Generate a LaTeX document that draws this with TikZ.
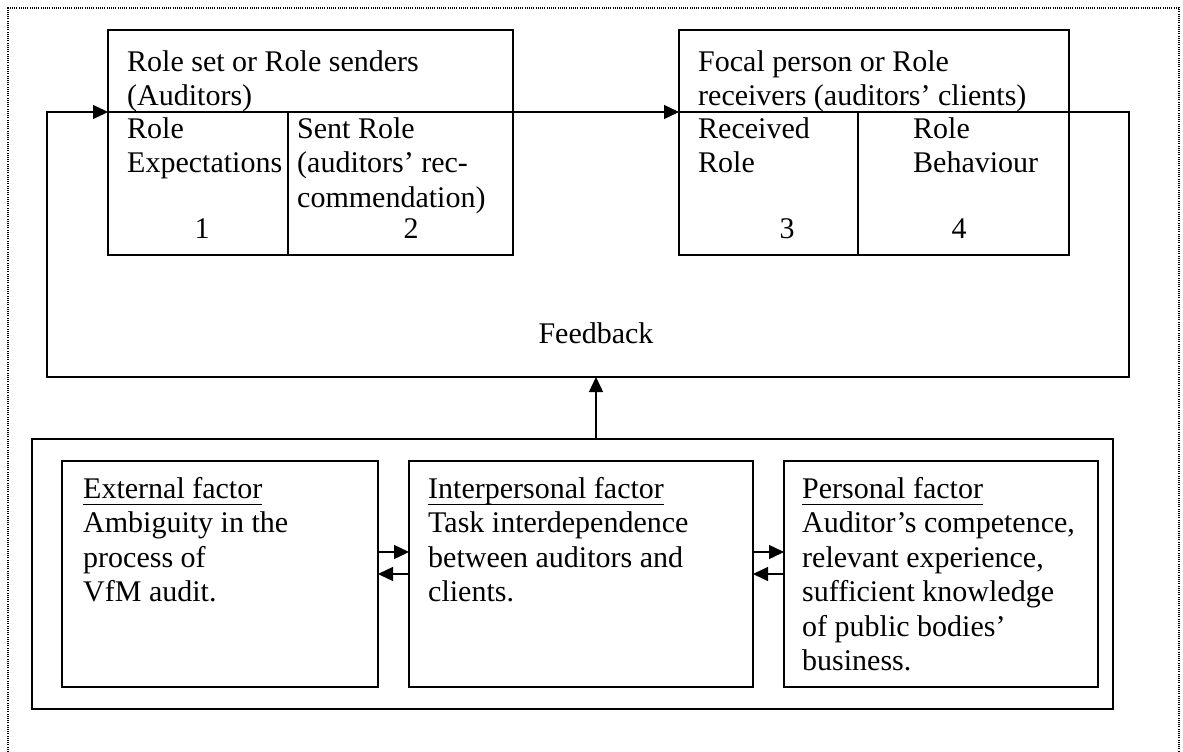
\documentclass[tikz,border=0pt]{standalone}
\usepackage{fontspec}
\setmainfont{Liberation Serif}
\usepackage{tikz}
\usetikzlibrary{positioning, arrows.meta}
\newsavebox\factbox
\newcommand{\facthead}[1]{\sbox\factbox{#1}\rlap{\rule[-7pt]{\wd\factbox}{1.3pt}}\usebox\factbox}

\begin{document}
\begin{tikzpicture}[x=1pt, y=-1pt,
    font=\fontsize{30}{34.5}\selectfont,
    box/.style={draw, line width=1.6pt, inner sep=0pt, outer sep=0pt},
    txt/.style={anchor=north west, align=left, inner sep=0pt},
    num/.style={anchor=base, inner sep=0pt},
    arr/.style={-{Triangle[length=15pt, width=14pt]}, line width=1.4pt}]
    \useasboundingbox (0,0) rectangle (1183,752);
    \draw[line width=1.3pt, dash pattern=on 1pt off 1.2pt] (8,752) -- (8,8) -- (1179,8) -- (1179,752);

    \node[box, anchor=north west, minimum width=405pt, minimum height=225pt] (lt) at (108,30) {};
    \node[box, minimum width=390pt, minimum height=225pt, right = 166pt of lt] (rt) {};
    \coordinate (ltsplit) at ([yshift=-82pt]lt.north west);
    \coordinate (rtsplit) at ([yshift=-82pt]rt.north west);
    \draw[line width=1.6pt] (ltsplit) -- (lt.east |- ltsplit);
    \draw[line width=1.6pt] ([xshift=180pt]ltsplit) -- ([xshift=180pt]lt.south west);
    \draw[line width=1.6pt] (rtsplit) -- (rt.east |- rtsplit);
    \draw[line width=1.6pt] ([xshift=179pt]rtsplit) -- ([xshift=179pt]rt.south west);

    \node[txt] (senders) at (127,50) {Role set or Role senders\\(Auditors)};
    \node[txt] (expect) at (127,117) {Role\\Expectations};
    \node[txt] (sent) at (297,117) {Sent Role\\(auditors’ rec-\\commendation)};
    \node[num] (num1) at (202,238) {1};
    \node[num] (num2) at (411,238) {2};
    \node[txt] (receivers) at (698,50) {Focal person or Role\\receivers (auditors’ clients)};
    \node[txt] (received) at (698,117) {Received\\Role};
    \node[txt] (behave) at (913,117) {Role\\Behaviour};
    \node[num] (num3) at (787,238) {3};
    \node[num] (num4) at (959,238) {4};

    \draw[arr] (lt.east |- ltsplit) -- (rtsplit);
    \coordinate (loopse) at (1129,377);
    \coordinate (loopsw) at (47,377);
    \coordinate (fbin) at (596,377);
    \draw[arr] (rt.east |- rtsplit) -| (loopse) -- (loopsw) |- (ltsplit);
    \node (fb) at ([yshift=44pt]fbin) {Feedback};

    \node[box, anchor=north west, minimum width=1081pt, minimum height=270pt] (factors) at (32,439) {};
    \node[box, anchor=north west, minimum width=316pt, minimum height=226pt] (ext) at (62,461) {};
    \node[box, minimum width=344pt, minimum height=226pt, right = 31pt of ext] (inter) {};
    \node[box, minimum width=314pt, minimum height=226pt, right = 31pt of inter] (pers) {};
    \draw[arr] (factors.north -| fbin) -- (fbin);

    \node[txt] (exttext) at (83,477) {\facthead{External factor}\\Ambiguity in the\\process of\\VfM audit.};
    \node[txt] (intertext) at (428,477) {\facthead{Interpersonal factor}\\Task interdependence\\between auditors and\\clients.};
    \node[txt] (perstext) at (802,477) {\facthead{Personal factor}\\Auditor’s competence,\\relevant experience,\\sufficient knowledge\\of public bodies’\\business.};

    \draw[arr] ([yshift=22pt]ext.east) -- ([yshift=22pt]inter.west);
    \draw[arr] (inter.west) -- (ext.east);
    \draw[arr] ([yshift=22pt]inter.east) -- ([yshift=22pt]pers.west);
    \draw[arr] (pers.west) -- (inter.east);
\end{tikzpicture}
\end{document}
